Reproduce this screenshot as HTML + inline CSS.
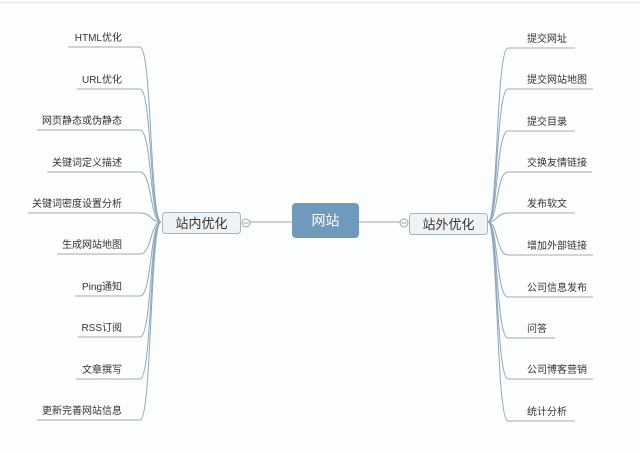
<!DOCTYPE html>
<html><head><meta charset="utf-8"><style>
html,body{margin:0;padding:0;background:#fcfdfd;}
svg{display:block;}
text{font-family:"Liberation Sans","Noto Sans CJK SC",sans-serif;}
</style></head><body>
<svg width="640" height="453" viewBox="0 0 640 453" xmlns="http://www.w3.org/2000/svg">
<rect x="0" y="0" width="640" height="453" fill="#fcfdfd"/>
<line x1="0" y1="2.5" x2="640" y2="2.5" stroke="#e2e5e8" stroke-width="1"/>
<g fill="none" stroke="#8ea6ba" stroke-width="1">
<!-- left curves -->
<path d="M140,47 C152,47 150,222 161,222"/>
<path d="M140,89 C152,89 150,222 161,222"/>
<path d="M140,130 C152,130 150,222 161,222"/>
<path d="M140,172 C152,172 150,222 161,222"/>
<path d="M140,213 C152,213 150,222 161,222"/>
<path d="M140,254 C152,254 150,222 161,222"/>
<path d="M140,296 C152,296 150,222 161,222"/>
<path d="M140,337 C152,337 150,222 161,222"/>
<path d="M140,379 C152,379 150,222 161,222"/>
<path d="M140,420 C152,420 150,222 161,222"/>
<!-- right curves -->
<path d="M508,48 C496,48 498,222 488,222"/>
<path d="M508,89 C496,89 498,222 488,222"/>
<path d="M508,131 C496,131 498,222 488,222"/>
<path d="M508,172 C496,172 498,222 488,222"/>
<path d="M508,213 C496,213 498,222 488,222"/>
<path d="M508,255 C496,255 498,222 488,222"/>
<path d="M508,297 C496,297 498,222 488,222"/>
<path d="M508,338 C496,338 498,222 488,222"/>
<path d="M508,379 C496,379 498,222 488,222"/>
<path d="M508,421 C496,421 498,222 488,222"/>
</g>
<g stroke="#9eabb6" stroke-width="1">
<line x1="68" y1="47" x2="140" y2="47"/>
<line x1="77" y1="89" x2="140" y2="89"/>
<line x1="37" y1="130" x2="140" y2="130"/>
<line x1="47" y1="172" x2="140" y2="172"/>
<line x1="28" y1="213" x2="140" y2="213"/>
<line x1="57" y1="254" x2="140" y2="254"/>
<line x1="75" y1="296" x2="140" y2="296"/>
<line x1="78" y1="337" x2="140" y2="337"/>
<line x1="76" y1="379" x2="140" y2="379"/>
<line x1="37" y1="420" x2="140" y2="420"/>
<line x1="508" y1="48" x2="575" y2="48"/>
<line x1="508" y1="89" x2="593" y2="89"/>
<line x1="508" y1="131" x2="575" y2="131"/>
<line x1="508" y1="172" x2="592" y2="172"/>
<line x1="508" y1="213" x2="575" y2="213"/>
<line x1="508" y1="255" x2="593" y2="255"/>
<line x1="508" y1="297" x2="593" y2="297"/>
<line x1="508" y1="338" x2="555" y2="338"/>
<line x1="508" y1="379" x2="593" y2="379"/>
<line x1="508" y1="421" x2="575" y2="421"/>
</g>
<g font-size="10" fill="#333" text-anchor="end">
<text x="122" y="41">HTML优化</text>
<text x="122" y="83">URL优化</text>
<text x="122" y="124">网页静态或伪静态</text>
<text x="122" y="166">关键词定义描述</text>
<text x="122" y="207">关键词密度设置分析</text>
<text x="122" y="248">生成网站地图</text>
<text x="122" y="290">Ping通知</text>
<text x="122" y="331">RSS订阅</text>
<text x="122" y="373">文章撰写</text>
<text x="122" y="414">更新完善网站信息</text>
</g>
<g font-size="10" fill="#333">
<text x="527" y="42">提交网址</text>
<text x="527" y="83">提交网站地图</text>
<text x="527" y="125">提交目录</text>
<text x="527" y="166">交换友情链接</text>
<text x="527" y="207">发布软文</text>
<text x="527" y="249">增加外部链接</text>
<text x="527" y="291">公司信息发布</text>
<text x="527" y="332">问答</text>
<text x="527" y="373">公司博客营销</text>
<text x="527" y="415">统计分析</text>
</g>
<!-- center connectors -->
<line x1="250" y1="222" x2="292" y2="222" stroke="#9aa5ae" stroke-width="1"/>
<line x1="359" y1="222" x2="400" y2="222" stroke="#9aa5ae" stroke-width="1"/>
<circle cx="246" cy="223" r="4" fill="#fcfdfd" stroke="#9aa5ae" stroke-width="1"/>
<line x1="243.5" y1="223" x2="248.5" y2="223" stroke="#9aa5ae" stroke-width="1"/>
<circle cx="404" cy="223" r="4" fill="#fcfdfd" stroke="#9aa5ae" stroke-width="1"/>
<line x1="401.5" y1="223" x2="406.5" y2="223" stroke="#9aa5ae" stroke-width="1"/>
<!-- nodes -->
<rect x="162.5" y="212.5" width="78" height="21" rx="3" fill="#eff3f6" stroke="#a7b5c1" stroke-width="1"/>
<text x="201.5" y="228" font-size="13" fill="#333" text-anchor="middle">站内优化</text>
<rect x="409.5" y="213.5" width="78" height="21" rx="3" fill="#eff3f6" stroke="#a7b5c1" stroke-width="1"/>
<text x="448.5" y="229" font-size="13" fill="#333" text-anchor="middle">站外优化</text>
<rect x="292" y="203" width="67" height="35" rx="4" fill="#6f9abb"/>
<text x="325.5" y="225.5" font-size="14" fill="#ffffff" text-anchor="middle">网站</text>
</svg>
</body></html>
